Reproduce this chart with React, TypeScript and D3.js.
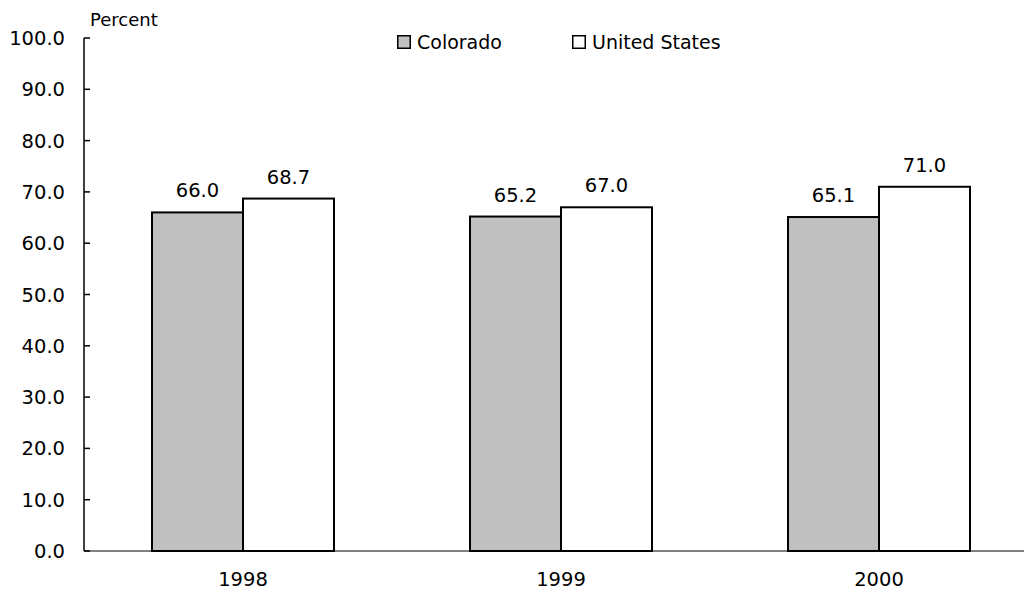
import React from "react";
import * as d3 from "d3";

const years = ["1998", "1999", "2000"];
const colorado = [66.0, 65.2, 65.1];
const unitedStates = [68.7, 67.0, 71.0];
const yTicks = [0, 10, 20, 30, 40, 50, 60, 70, 80, 90, 100];
const seriesNames = ["Colorado", "United States"];
const seriesFills = ["#c0c0c0", "#ffffff"];

const W = 1024;
const H = 592;
const FONT = "'DejaVu Sans', sans-serif";

export default function App() {
  const x0 = 84;
  const y = d3.scaleLinear().domain([0, 100]).range([551, 38]);
  const x = d3.scaleBand().domain(years).range([x0, x0 + 318 * 3]).paddingInner(0).paddingOuter(0);
  const barW = 91;
  const series = [colorado, unitedStates];

  return (
    <svg width={W} height={H} style={{ position: "absolute", left: 0, top: 0 }} fontFamily={FONT}>
      <rect x={0} y={0} width={W} height={H} fill="#fff" />
      <line x1={x0} x2={W} y1={y(0)} y2={y(0)} stroke="#808080" strokeWidth={2} />
      {years.map((yr, i) => {
        const c = (x(yr) as number) + x.bandwidth() / 2;
        return series.map((s, k) => {
          const bx = c - barW + k * barW;
          const v = s[i];
          return (
            <g key={yr + k}>
              <rect x={bx} y={y(v)} width={barW} height={y(0) - y(v)} fill={seriesFills[k]} stroke="#000" strokeWidth={2} />
              <text x={bx + barW / 2} y={y(v) - 15} textAnchor="middle" fontSize={19.5} fill="#000">
                {v.toFixed(1)}
              </text>
            </g>
          );
        });
      })}
      <line x1={x0} x2={x0} y1={y(100)} y2={y(0)} stroke="#000" strokeWidth={1.5} />
      {yTicks.map((t) => (
        <g key={t}>
          <line x1={x0} x2={x0 + 6} y1={y(t)} y2={y(t)} stroke="#000" strokeWidth={1.5} />
          <text x={65} y={y(t) + 7} textAnchor="end" fontSize={19.5} fill="#000">
            {t.toFixed(1)}
          </text>
        </g>
      ))}
      <text x={90} y={26} fontSize={18} fill="#000">Percent</text>
      {years.map((yr) => (
        <text key={yr} x={(x(yr) as number) + x.bandwidth() / 2} y={586} textAnchor="middle" fontSize={19.5} fill="#000">
          {yr}
        </text>
      ))}
      {seriesNames.map((n, k) => {
        const lx = [397, 572][k];
        return (
          <g key={n}>
            <rect x={lx + 0.75} y={35.75} width={12.5} height={12.5} fill={seriesFills[k]} stroke="#000" strokeWidth={1.5} />
            <text x={lx + 20} y={49} fontSize={19} fill="#000">{n}</text>
          </g>
        );
      })}
    </svg>
  );
}
